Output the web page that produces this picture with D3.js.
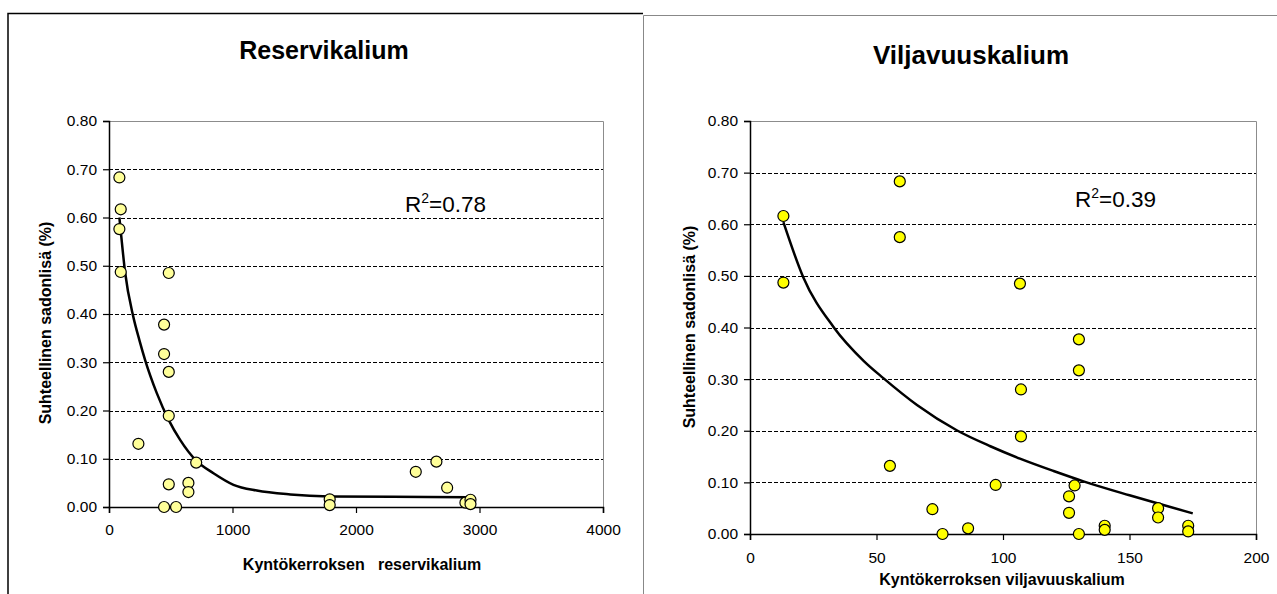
<!DOCTYPE html>
<html><head><meta charset="utf-8">
<script src="https://cdn.jsdelivr.net/npm/d3@7"></script>
<style>body{margin:0;background:#fff}svg{display:block}text{font-family:"Liberation Sans",Arial,sans-serif}</style>
</head><body><svg id="c" width="1277" height="594"></svg>
<script>
// ---- data ----
const yTicks = [0, 0.1, 0.2, 0.3, 0.4, 0.5, 0.6, 0.7, 0.8];
const resTicksX = [0, 1000, 2000, 3000, 4000];
const vilTicksX = [0, 50, 100, 150, 200];

const resX = [84, 95, 84, 95, 484, 446, 446, 484, 484, 238, 706, 484, 643, 643, 446, 543, 1787, 1787, 2484, 2651, 2738, 2886, 2927, 2927];
const resY = [0.683, 0.617, 0.576, 0.487, 0.485, 0.378, 0.317, 0.280, 0.189, 0.131, 0.092, 0.047, 0.050, 0.031, 0.000, 0.000, 0.016, 0.004, 0.073, 0.094, 0.040, 0.009, 0.015, 0.006];
const resTrendX = [84, 97, 130, 197, 246, 292, 387, 484, 576, 706, 846, 1008, 1197, 1468, 1787, 2300, 2914];
const resTrendY = [0.600, 0.567, 0.487, 0.394, 0.346, 0.305, 0.236, 0.180, 0.139, 0.096, 0.070, 0.046, 0.034, 0.026, 0.022, 0.021, 0.020];

const vilX = [13.2, 59.2, 13.2, 106.7, 59.2, 55.3, 97.1, 72.1, 76.1, 86.2, 130, 130, 107.1, 107.1, 128.3, 126.1, 126.1, 130, 140.2, 140.2, 161.3, 161.3, 173.2, 173.2];
const vilY = [0.616, 0.575, 0.487, 0.485, 0.683, 0.132, 0.095, 0.048, 0.000, 0.011, 0.377, 0.317, 0.280, 0.189, 0.094, 0.073, 0.041, 0.000, 0.016, 0.008, 0.050, 0.032, 0.016, 0.005];
const vilTrendX = [13.2, 21, 33, 45, 52.7, 66, 81.7, 95, 106.7, 120, 131.8, 150, 162, 175];
const vilTrendY = [0.604, 0.498, 0.401, 0.335, 0.302, 0.250, 0.201, 0.170, 0.146, 0.122, 0.102, 0.075, 0.058, 0.040];

const svg = d3.select("#c");

// frames
svg.append("path").attr("d", "M8,594 V13.5 H643").attr("fill", "none").attr("stroke", "#000").attr("stroke-width", 1.5);
svg.append("path").attr("d", "M643.5,594 V15.5 H1277").attr("fill", "none").attr("stroke", "#888").attr("stroke-width", 1);

function chart(o) {
  const x = d3.scaleLinear().domain(o.xDomain).range([o.x0, o.x1]);
  const y = d3.scaleLinear().domain([0, 0.8]).range([o.y0, o.y1]);
  const g = svg.append("g");
  g.append("path").attr("d", `M${o.x0},${o.y1 + 0.5} H${o.x1 + 0.5} V${o.y0}`)
    .attr("fill", "none").attr("stroke", "#8c8c8c").attr("stroke-width", 1);
  g.append("g").selectAll("line").data(yTicks.filter(d => d > 0 && d < 0.8)).join("line")
    .attr("x1", o.x0).attr("x2", o.x1).attr("y1", d => Math.round(y(d)) + 0.5).attr("y2", d => Math.round(y(d)) + 0.5)
    .attr("stroke", "#000").attr("stroke-width", 1).attr("stroke-dasharray", "4,2");
  const ay = g.append("g").attr("transform", `translate(${o.x0},0)`)
    .call(d3.axisLeft(y).tickValues(yTicks).tickFormat(d3.format(".2f")).tickSizeOuter(0).tickSize(6).tickPadding(6));
  const ax = g.append("g").attr("transform", `translate(0,${o.y0})`)
    .call(d3.axisBottom(x).tickValues(o.xTicks).tickFormat(d3.format("d")).tickSizeOuter(0).tickSize(6).tickPadding(o.xPad));
  [ay, ax].forEach(a => {
    a.select(".domain").attr("stroke", "#000").attr("stroke-width", 1.5);
    a.selectAll(".tick line").attr("stroke", "#000").attr("stroke-width", 1.2);
    a.selectAll("text").attr("font-size", 15.5).attr("fill", "#000").attr("font-family", "Liberation Sans, Arial, sans-serif");
  });
  const tr = o.tx.map((v, i) => [v, o.ty[i]]);
  g.append("path").datum(tr).attr("fill", "none").attr("stroke", "#000").attr("stroke-width", 2.5)
    .attr("d", d3.line().x(d => x(d[0])).y(d => y(d[1])).curve(d3.curveMonotoneX));
  const pts = o.px.map((v, i) => [v, o.py[i]]);
  g.append("g").selectAll("circle").data(pts).join("circle")
    .attr("cx", d => x(d[0])).attr("cy", d => y(d[1])).attr("r", 5.5)
    .attr("fill", o.fill).attr("stroke", "#000").attr("stroke-width", 1.2);
  g.append("text").attr("x", o.titleX).attr("y", o.titleY).attr("text-anchor", "middle")
    .attr("font-size", o.titleSize).attr("font-weight", "bold").text(o.title);
  g.append("text").attr("x", o.xtX).attr("y", o.xtY).attr("text-anchor", "middle")
    .attr("font-size", 16).attr("font-weight", "bold").attr("xml:space", "preserve").text(o.xTitle);
  g.append("text").attr("transform", `translate(${o.ytX},${o.ytY}) rotate(-90)`).attr("text-anchor", "middle")
    .attr("font-size", 16).attr("font-weight", "bold").text("Suhteellinen sadonlisä (%)");
  const r = g.append("text").attr("x", o.rX).attr("y", o.rY).attr("font-size", 22.5)
    .attr("font-family", "Lato, 'Open Sans', sans-serif");
  r.append("tspan").text("R");
  r.append("tspan").attr("font-size", 14).attr("dy", -9).text("2");
  r.append("tspan").attr("dy", 9).text("=" + o.r2);
}

chart({
  xDomain: [0, 4000], xTicks: resTicksX, x0: 109, x1: 603, y0: 507, y1: 121, xPad: 11,
  px: resX, py: resY, tx: resTrendX, ty: resTrendY, fill: "#ffff99",
  title: "Reservikalium", titleX: 324, titleY: 59, titleSize: 25,
  xTitle: "Kyntökerroksen   reservikalium", xtX: 362, xtY: 570,
  ytX: 51, ytY: 323, rX: 405, rY: 212, r2: "0.78"
});
chart({
  xDomain: [0, 200], xTicks: vilTicksX, x0: 750, x1: 1256, y0: 534, y1: 121, xPad: 12,
  px: vilX, py: vilY, tx: vilTrendX, ty: vilTrendY, fill: "#ffff00",
  title: "Viljavuuskalium", titleX: 971, titleY: 64, titleSize: 26,
  xTitle: "Kyntökerroksen viljavuuskalium", xtX: 1002, xtY: 585,
  ytX: 695, ytY: 327, rX: 1075, rY: 207, r2: "0.39"
});
</script></body></html>
